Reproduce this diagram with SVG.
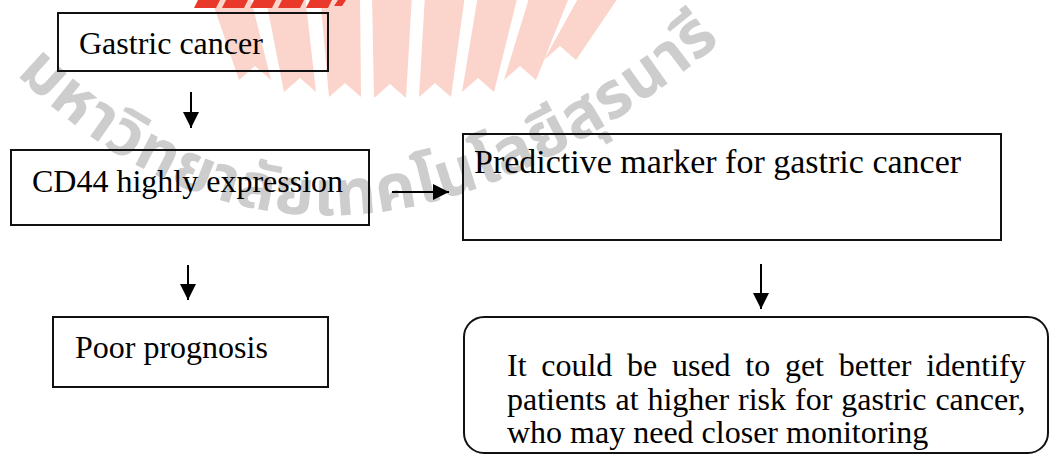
<svg xmlns="http://www.w3.org/2000/svg" xmlns:xlink="http://www.w3.org/1999/xlink" width="1061" height="454" viewBox="0 0 1061 454">
  <style>
    .box { fill: none; stroke: #111; stroke-width: 2; }
    .lbl { font-family: "Liberation Serif", "Times New Roman", "DejaVu Serif", serif; font-size: 32px; fill: #000; }
    .conn { stroke: #000; stroke-width: 2; fill: none; }
    .pillar { fill: #fbd4cb; }
    .red { fill: #e8392a; }
    .wm { font-family: "Noto Sans Thai", "Noto Sans", "DejaVu Sans", sans-serif; font-weight: bold; font-size: 64px; fill: #cdcdcd; }
  </style>
  <defs>
    <marker id="ah" markerUnits="userSpaceOnUse" markerWidth="16" markerHeight="16" viewBox="0 0 16 16" refX="16" refY="8" orient="auto">
      <path d="M0,0 L16,8 L0,16 Z" fill="#000"/>
    </marker>
    <path id="arc" d="M16,74 Q330,380 742,24"/>
  </defs>
  <rect width="1061" height="454" fill="#fff"/>

  <g id="watermark">
    <polygon class="pillar" points="239,80 210,-5 250,-5 271,80 255,66"/>
    <polygon class="pillar" points="284,92 265,-5 305,-5 316,92 300,78"/>
    <polygon class="pillar" points="329,97 320,-5 360,-5 361,97 345,83"/>
    <polygon class="pillar" points="374,98 372,-5 412,-5 406,98 390,84"/>
    <polygon class="pillar" points="419,97 425,-5 465,-5 451,97 435,83"/>
    <polygon class="pillar" points="462,92 478,-5 518,-5 494,92 478,78"/>
    <polygon class="pillar" points="504,80 530,-5 570,-5 536,80 520,66"/>
    <polygon class="pillar" points="544,60 580,-5 620,-5 576,60 560,46"/>
    <polygon class="red" points="198,0 220,0 216,8 194,8"/>
    <polygon class="red" points="226,0 248,0 244,8 222,8"/>
    <polygon class="red" points="254,0 276,0 272,8 250,8"/>
    <polygon class="red" points="282,0 304,0 300,8 278,8"/>
    <polygon class="red" points="310,0 332,0 328,8 306,8"/>
    <polygon class="red" points="338,0 346,0 342,6 334,6"/>
    <text class="wm"><textPath xlink:href="#arc" textLength="790" lengthAdjust="spacing">มหาวิทยาลัยเทคโนโลยีสุรนารี</textPath></text>
  </g>

  <g id="connectors">
    <line class="conn" x1="191" y1="92" x2="191" y2="128" marker-end="url(#ah)"/>
    <line class="conn" x1="392" y1="192" x2="449" y2="192" marker-end="url(#ah)"/>
    <line class="conn" x1="188" y1="265" x2="188" y2="300" marker-end="url(#ah)"/>
    <line class="conn" x1="761" y1="264" x2="761" y2="309" marker-end="url(#ah)"/>
  </g>

  <g id="node-gastric">
    <rect class="box" x="58" y="13" width="270" height="58"/>
    <text class="lbl" x="79" y="54">Gastric cancer</text>
  </g>
  <g id="node-cd44">
    <rect class="box" x="11" y="150" width="358" height="75"/>
    <text class="lbl" x="32" y="192">CD44 highly expression</text>
  </g>
  <g id="node-predictive">
    <rect class="box" x="463" y="134" width="538" height="106"/>
    <text class="lbl" x="474" y="173" style="font-size:34px">Predictive marker for gastric cancer</text>
  </g>
  <g id="node-poor">
    <rect class="box" x="53" y="317" width="275" height="70"/>
    <text class="lbl" x="75" y="358">Poor prognosis</text>
  </g>
  <g id="node-identify">
    <rect class="box" x="464" y="317" width="584" height="136" rx="20" ry="20"/>
    <text class="lbl" x="507" y="376" word-spacing="6.7">It could be used to get better identify</text>
    <text class="lbl" x="507" y="410" word-spacing="0.9">patients at higher risk for gastric cancer,</text>
    <text class="lbl" x="507" y="443">who may need closer monitoring</text>
  </g>
</svg>
